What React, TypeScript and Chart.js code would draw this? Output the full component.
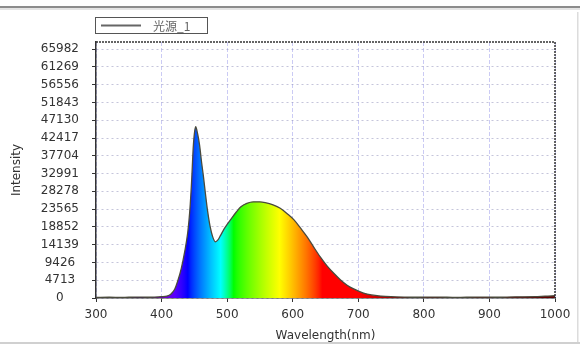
import React, { useEffect, useRef } from "react";
import { Chart, registerables } from "chart.js";

Chart.register(...registerables);

// Spectrum data (wavelength in nm, intensity)
const wavelengths = [
  300, 320, 340, 360, 380, 400, 408, 414, 420, 425, 430, 435, 440, 443, 446, 448, 450, 452,
  455, 458, 461, 464, 467, 470, 474, 478, 482, 486, 490, 495, 500, 507, 514, 521, 530, 540, 550,
  558, 570, 581, 592, 602, 612, 622, 632, 642, 652, 663, 673, 683, 693, 708, 720, 735, 750,
  770, 790, 820, 850, 880, 910, 940, 970, 985, 1000,
];
const intensities = [
  150, 200, 150, 250, 200, 350, 500, 1000, 2300, 4700, 7800, 12000, 17500, 23000, 31500, 39000, 43500, 45400,
  43500, 40500, 36000, 32000, 27500, 23300, 19000, 16200, 14900, 15400, 16600, 18200, 19500, 21200, 22800, 24200, 25100, 25500, 25500,
  25300, 24700, 23800, 22300, 20700, 18500, 16200, 13500, 10900, 8600, 6500, 4800, 3400, 2400, 1300, 800, 500, 350,
  250, 200, 250, 150, 250, 200, 300, 350, 500, 600,
];
const yTickValues = [0, 4713, 9426, 14139, 18852, 23565, 28278, 32991, 37704, 42417, 47130, 51843, 56556, 61269, 65982];
const seriesLabel = "光源_1";
const xTitle = "Wavelength(nm)";
const yTitle = "Intensity";

function wlColor(l: number): string {
  let r = 0, g = 0, b = 0;
  if (l < 380) { r = 0.5; g = 0; b = 1; }
  else if (l < 440) { r = -(l - 440) / 60 * 0.8; b = 1; }
  else if (l < 490) { g = (l - 440) / 50; b = 1; }
  else if (l < 510) { g = 1; b = -(l - 510) / 20; }
  else if (l < 580) { r = (l - 510) / 70; g = 1; }
  else if (l < 645) { r = 1; g = -(l - 645) / 65; }
  else { r = 1; }
  let f = 1;
  if (l < 420) f = 0.3 + (0.7 * (Math.max(l, 380) - 380)) / 40;
  else if (l > 700) f = 0.3 + (0.7 * (780 - Math.min(l, 780))) / 80;
  const c = (v: number) => Math.round(255 * Math.pow(v * f, 0.8));
  return `rgb(${c(r)},${c(g)},${c(b)})`;
}

const tickFont = { family: "'DejaVu Sans', sans-serif", size: 12 };

const framePlugin = {
  id: "frameAndLegend",
  afterDraw(chart: any) {
    const ctx = chart.ctx as CanvasRenderingContext2D;
    const { left, right, top, bottom } = chart.chartArea;
    ctx.save();
    // plot top/right borders (dotted dark)
    ctx.strokeStyle = "#333";
    ctx.lineWidth = 1.5;
    ctx.setLineDash([2, 1]);
    ctx.beginPath();
    ctx.moveTo(left, top);
    ctx.lineTo(right, top);
    ctx.lineTo(right, bottom);
    ctx.stroke();
    ctx.setLineDash([]);
    // outer frame
    ctx.fillStyle = "#8c8c8c";
    ctx.fillRect(0, 6, 580, 2);
    ctx.fillStyle = "#e4e4e4";
    ctx.fillRect(0, 8, 580, 2);
    ctx.fillStyle = "#dcdcdc";
    ctx.fillRect(577, 12, 1.5, 330);
    ctx.fillStyle = "#d0d0d0";
    ctx.fillRect(0, 342, 580, 2);
    // legend
    const label = chart.data.datasets[0].label;
    ctx.fillStyle = "#fff";
    ctx.fillRect(95.5, 17.5, 112, 16);
    ctx.strokeStyle = "#555";
    ctx.lineWidth = 1;
    ctx.strokeRect(95.5, 17.5, 112, 16);
    ctx.strokeStyle = "#666";
    ctx.lineWidth = 2;
    ctx.beginPath();
    ctx.moveTo(101, 25.5);
    ctx.lineTo(141, 25.5);
    ctx.stroke();
    ctx.fillStyle = "#666";
    ctx.font = "12px 'Noto Sans CJK SC', sans-serif";
    ctx.textBaseline = "middle";
    ctx.textAlign = "left";
    ctx.fillText(label, 153, 26);
    ctx.restore();
  },
};

export default function App() {
  const ref = useRef<HTMLCanvasElement | null>(null);
  useEffect(() => {
    if (!ref.current) return;
    const points = wavelengths.map((w, i) => ({ x: w, y: intensities[i] }));
    const chart = new Chart(ref.current, {
      type: "line",
      data: {
        datasets: [
          {
            label: seriesLabel,
            data: points,
            borderColor: "#4a4a3c",
            borderWidth: 1.3,
            pointRadius: 0,
            cubicInterpolationMode: "monotone",
            fill: "origin",
            backgroundColor: (c: any) => {
              const ch = c.chart;
              if (!ch.chartArea) return "transparent";
              const xs = ch.scales.x;
              const x0 = xs.getPixelForValue(300);
              const x1 = xs.getPixelForValue(1000);
              const g = ch.ctx.createLinearGradient(x0, 0, x1, 0);
              for (let l = 300; l <= 1000; l += 5) {
                g.addColorStop((l - 300) / 700, wlColor(l));
              }
              return g;
            },
          } as any,
        ],
      },
      plugins: [framePlugin],
      options: {
        responsive: false,
        animation: false,
        layout: { padding: { left: 0, right: 25, top: 42, bottom: 0 } },
        plugins: { legend: { display: false }, tooltip: { enabled: false } },
        scales: {
          x: {
            type: "linear",
            min: 300,
            max: 1000,
            ticks: {
              stepSize: 100,
              font: tickFont,
              color: "#333",
              padding: 6,
              maxRotation: 0,
              callback: (v: any) => String(v),
            },
            grid: { color: "rgba(160,160,235,0.55)", tickColor: "#333", tickLength: 4, lineWidth: 1 },
            border: { color: "#333", width: 1.5, dash: [4, 2] },
            title: {
              display: true,
              text: xTitle,
              font: { family: "'DejaVu Sans', sans-serif", size: 12 },
              color: "#333",
              padding: { top: 0, bottom: 4 },
            },
            afterFit: (s: any) => { s.height = 49; },
          },
          y: {
            type: "linear",
            min: 0,
            max: 67870,
            afterBuildTicks: (s: any) => { s.ticks = yTickValues.map((v) => ({ value: v })); },
            ticks: {
              font: tickFont,
              color: "#333",
              padding: 13,
              crossAlign: "center",
              callback: (v: any) => String(v),
            },
            grid: { color: "rgba(150,150,190,0.55)", tickColor: "#333", tickLength: 4, lineWidth: 1 },
            border: { color: "#333", width: 1.5, dash: [2, 3] },
            title: {
              display: true,
              text: yTitle,
              font: { family: "'DejaVu Sans', sans-serif", size: 12 },
              color: "#333",
              padding: { top: 10, bottom: 0 },
            },
            afterFit: (s: any) => { s.width = 96; },
          },
        },
      } as any,
    });
    return () => chart.destroy();
  }, []);
  return (
    <div style={{ position: "fixed", left: 0, top: 0, width: 580, height: 347, background: "#fff" }}>
      <canvas ref={ref} width={580} height={347} style={{ width: 580, height: 347, display: "block" }} />
    </div>
  );
}
